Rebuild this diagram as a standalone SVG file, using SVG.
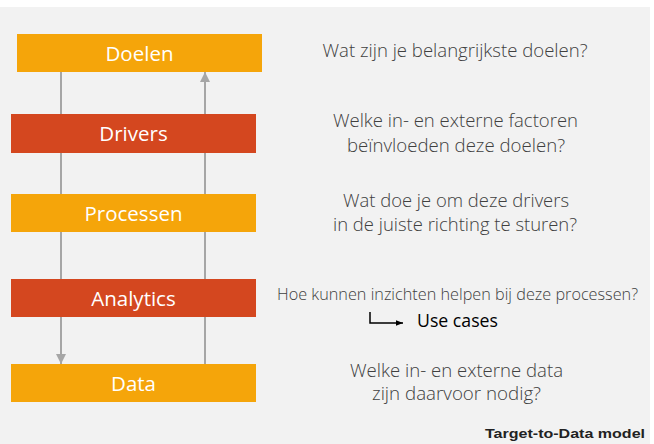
<svg xmlns="http://www.w3.org/2000/svg" width="654" height="444" viewBox="0 0 654 444">
<defs>
<style>
.bg{fill:#f2f2f2}
.or{fill:#f5a50a}
.rd{fill:#d4471f}
.lbl{font-family:"Open Sans","Noto Sans",sans-serif;font-size:20.5px;fill:#ffffff;text-anchor:middle}
.q{font-family:"Open Sans","Noto Sans",sans-serif;font-size:18px;fill:#404040;text-anchor:middle;font-weight:300}
.conn{stroke:#a6a6a6;stroke-width:2;fill:none}
</style>
<marker id="ah" viewBox="0 0 10 10" refX="10" refY="5" markerWidth="5" markerHeight="5" orient="auto" markerUnits="strokeWidth">
<path d="M0,0 L10,5 L0,10 Z" fill="#a6a6a6"/>
</marker>
<marker id="ahb" viewBox="0 0 10 10" refX="10" refY="5" markerWidth="7" markerHeight="7" orient="auto" markerUnits="userSpaceOnUse">
<path d="M0,1 L10,5 L0,9 Z" fill="#000000"/>
</marker>
</defs>
<rect x="0" y="0" width="654" height="444" fill="#ffffff"/>
<rect class="bg" x="0" y="7" width="650" height="437"/>
<g id="connectors">
<line class="conn" x1="61" y1="72" x2="61" y2="364" marker-end="url(#ah)"/>
<line class="conn" x1="205" y1="364" x2="205" y2="72" marker-end="url(#ah)"/>
</g>
<g id="doelen"><rect class="or" x="17" y="34" width="245" height="38"/><text class="lbl" x="139.5" y="61">Doelen</text></g>
<g id="drivers"><rect class="rd" x="11" y="114" width="245" height="39"/><text class="lbl" x="133.5" y="141">Drivers</text></g>
<g id="processen"><rect class="or" x="11" y="194" width="245" height="38"/><text class="lbl" x="133.5" y="221">Processen</text></g>
<g id="analytics"><rect class="rd" x="11" y="279" width="245" height="38"/><text class="lbl" x="133.5" y="306">Analytics</text></g>
<g id="data"><rect class="or" x="11" y="364" width="245" height="38"/><text class="lbl" x="133.5" y="391">Data</text></g>
<g id="questions">
<text class="q" x="455" y="57" textLength="265" lengthAdjust="spacingAndGlyphs">Wat zijn je belangrijkste doelen?</text>
<text class="q" x="455.5" y="127" textLength="245" lengthAdjust="spacingAndGlyphs">Welke in- en externe factoren</text>
<text class="q" x="456" y="152" textLength="218" lengthAdjust="spacingAndGlyphs">beïnvloeden deze doelen?</text>
<text class="q" x="456" y="207" textLength="226" lengthAdjust="spacingAndGlyphs">Wat doe je om deze drivers</text>
<text class="q" x="455" y="231" textLength="244" lengthAdjust="spacingAndGlyphs">in de juiste richting te sturen?</text>
<text class="q" x="457.5" y="300" style="font-size:15.5px" textLength="361" lengthAdjust="spacingAndGlyphs">Hoe kunnen inzichten helpen bij deze processen?</text>
<text class="q" x="456.5" y="377" textLength="213" lengthAdjust="spacingAndGlyphs">Welke in- en externe data</text>
<text class="q" x="456.5" y="400" textLength="169" lengthAdjust="spacingAndGlyphs">zijn daarvoor nodig?</text>
</g>
<g id="usecases">
<path d="M370,312 L370,323 L403,323" stroke="#000" stroke-width="1.5" fill="none" marker-end="url(#ahb)"/>
<text x="417" y="327" textLength="81" lengthAdjust="spacingAndGlyphs" style="font-family:'Open Sans','Noto Sans',sans-serif;font-size:18px;fill:#000">Use cases</text>
</g>
<text x="485" y="438" textLength="160" lengthAdjust="spacingAndGlyphs" style="font-family:'Liberation Sans',Arial,sans-serif;font-size:13px;font-weight:bold;fill:#222">Target-to-Data model</text>
</svg>
